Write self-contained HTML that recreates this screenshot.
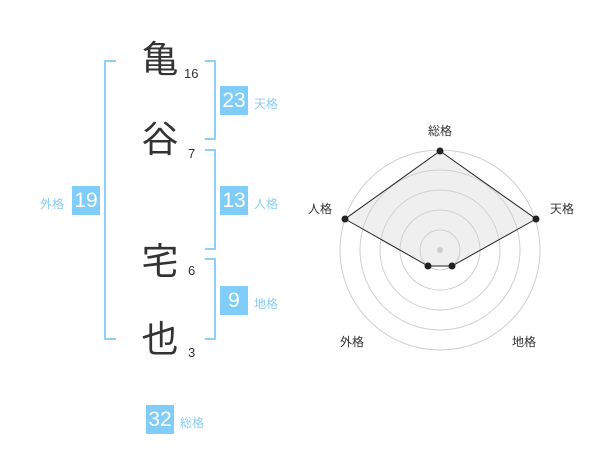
<!DOCTYPE html><html><head><meta charset="utf-8"><style>
body{margin:0;width:600px;height:470px;background:#fff;position:relative;overflow:hidden;font-family:"Liberation Sans","Noto Sans CJK JP",sans-serif}
.a{position:absolute}
.k{font-size:37px;color:#333;line-height:1;width:40px;text-align:center}
.n{font-size:13px;color:#333}
.b{background:#7fcdf8;color:#fff;font-size:21px;width:28px;height:29px;line-height:29px;text-align:center}
.l{font-size:12px;color:#8bcdf3}
</style></head><body>
<svg class="a" style="left:0;top:0" width="600" height="470">
<g stroke="#8fd0f8" stroke-width="2" fill="none">
<polyline points="116,61 105,61 105,339 116,339"/>
<polyline points="205,61 215,61 215,139 205,139"/>
<polyline points="205,150 215,150 215,249 205,249"/>
<polyline points="205,259 215,259 215,339 205,339"/>
</g>
<g stroke="#d0d0d0" fill="none"><circle cx="440" cy="250" r="100"/><circle cx="440" cy="250" r="80"/><circle cx="440" cy="250" r="60"/><circle cx="440" cy="250" r="40"/><circle cx="440" cy="250" r="20"/></g>
<circle cx="440" cy="250" r="3" fill="#ccc"/>
<polygon points="440,151 536,219 452,266 428,266 345,219" fill="rgba(210,210,210,0.35)" stroke="#222" stroke-width="1"/>
<g fill="#222"><circle cx="440" cy="151" r="3.5"/><circle cx="536" cy="219" r="3.5"/><circle cx="452" cy="266" r="3.5"/><circle cx="428" cy="266" r="3.5"/><circle cx="345" cy="219" r="3.5"/></g>
<g font-size="12" fill="#333" text-anchor="middle" font-family="Liberation Sans,Noto Sans CJK JP,sans-serif">
<text x="440" y="135">総格</text><text x="562" y="213">天格</text><text x="320" y="213">人格</text><text x="352" y="346">外格</text><text x="524" y="346">地格</text></g>
</svg>
<div class="a k" style="left:140px;top:41px">亀</div>
<div class="a k" style="left:140px;top:121px">谷</div>
<div class="a k" style="left:140px;top:243px">宅</div>
<div class="a k" style="left:140px;top:321px">也</div>
<div class="a n" style="left:184px;top:66px">16</div>
<div class="a n" style="left:188px;top:146px">7</div>
<div class="a n" style="left:188px;top:263px">6</div>
<div class="a n" style="left:188px;top:345px">3</div>
<div class="a b" style="left:220px;top:86px">23</div><div class="a l" style="left:254px;top:95px">天格</div>
<div class="a b" style="left:220px;top:186px">13</div><div class="a l" style="left:254px;top:195px">人格</div>
<div class="a b" style="left:220px;top:286px">9</div><div class="a l" style="left:254px;top:295px">地格</div>
<div class="a b" style="left:72px;top:186px">19</div><div class="a l" style="left:40px;top:195px">外格</div>
<div class="a b" style="left:146px;top:405px">32</div><div class="a l" style="left:180px;top:414px">総格</div>
</body></html>
